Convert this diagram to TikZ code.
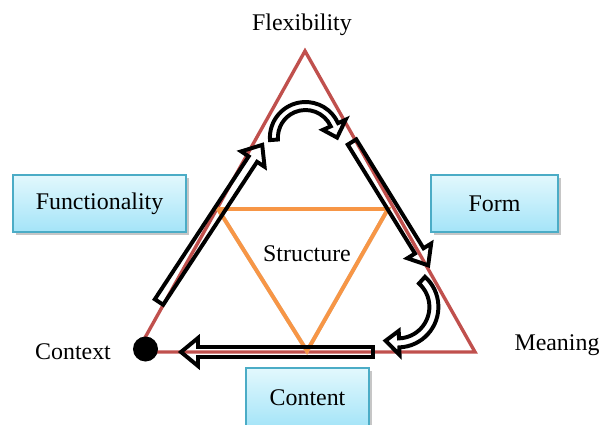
\documentclass[tikz,border=0pt]{standalone}
\usepackage{fontspec}
\setmainfont{Liberation Serif}
\usetikzlibrary{shadows}

\definecolor{edgered}{RGB}{192,80,77}
\definecolor{innerorange}{RGB}{247,150,70}
\definecolor{boxline}{RGB}{75,172,198}
\definecolor{boxtop}{RGB}{226,248,253}
\definecolor{boxbottom}{RGB}{164,228,248}

\tikzset{
	barrow/.pic={
		\draw[arrowline] (0,-5) -- (#1-17,-5) -- (#1-17,-14) -- (#1,0)
			-- (#1-17,14) -- (#1-17,5) -- (0,5) -- cycle;
	}
}

\begin{document}
\begin{tikzpicture}[x=0.025cm, y=0.025cm,
		every node/.style={font=\fontsize{17}{20}\selectfont},
		arrowline/.style={draw=black, line width=2.8pt},
		infobox/.style={draw=boxline, line width=1.2pt, top color=boxtop, bottom color=boxbottom,
			minimum height=1.425cm, drop shadow={opacity=0.45, shadow xshift=2pt, shadow yshift=-2pt}}]
		\useasboundingbox (0,0) rectangle (601,424);

		\coordinate (top) at (305,373);
		\coordinate (left) at (137,72);
		\coordinate (right) at (475,72);

		\coordinate (s1) at (218,215);
		\coordinate (s2) at (388,215);
		\coordinate (s3) at (307,73);

		\draw[edgered, line width=2.4pt] (top) -- (left) -- (right) -- cycle;
		\draw[black!20, line width=2.8pt, shift={(1.5,-2)}] (s1) -- (s2) -- (s3) -- cycle;
		\draw[innerorange, line width=2.8pt] (s1) -- (s2) -- (s3) -- cycle;

		\node[circle, fill=black, inner sep=0pt, minimum size=0.625cm] (dot) at (145.5,75) {};

		\node (flex) at (302,399) {Flexibility};
		\node (ctx) at (73,72) {Context};
		\node (mean) at (557,79) {Meaning};
		\node (struct) at (307,170) {Structure};

		\node[infobox, minimum width=4.325cm] (func) at (99.5,220.5) {Functionality};
		\node[infobox, minimum width=3.175cm] (form) at (494.5,220.5) {Form};
		\node[infobox, minimum width=3.075cm, minimum height=1.5cm] (content) at (307.5,26) {Content};

		% straight arrows
		\pic[rotate=56.7] at (159,122) {barrow=188};
		\pic[rotate=-58.3] at (352,282) {barrow=145};
		\pic[rotate=180] at (373,72) {barrow=192};

		% curved arrows
		\begin{scope}[shift={(305.5,286.4)}]
			\draw[arrowline] (184:35.6) arc[start angle=184, end angle=24, radius=35.6]
				-- (24:44) -- (0:31.6) -- (24:19) -- (24:27.6)
				arc[start angle=24, end angle=184, radius=27.6] -- cycle;
		\end{scope}
		\begin{scope}[shift={(397.9,117.1)}]
			\draw[arrowline] (48:40.5) arc[start angle=48, end angle=-88, radius=40.5]
				-- (-88:48) -- (-110:36) -- (-88:24) -- (-88:31.5)
				arc[start angle=-88, end angle=48, radius=31.5] -- cycle;
		\end{scope}
	\end{tikzpicture}
\end{document}
